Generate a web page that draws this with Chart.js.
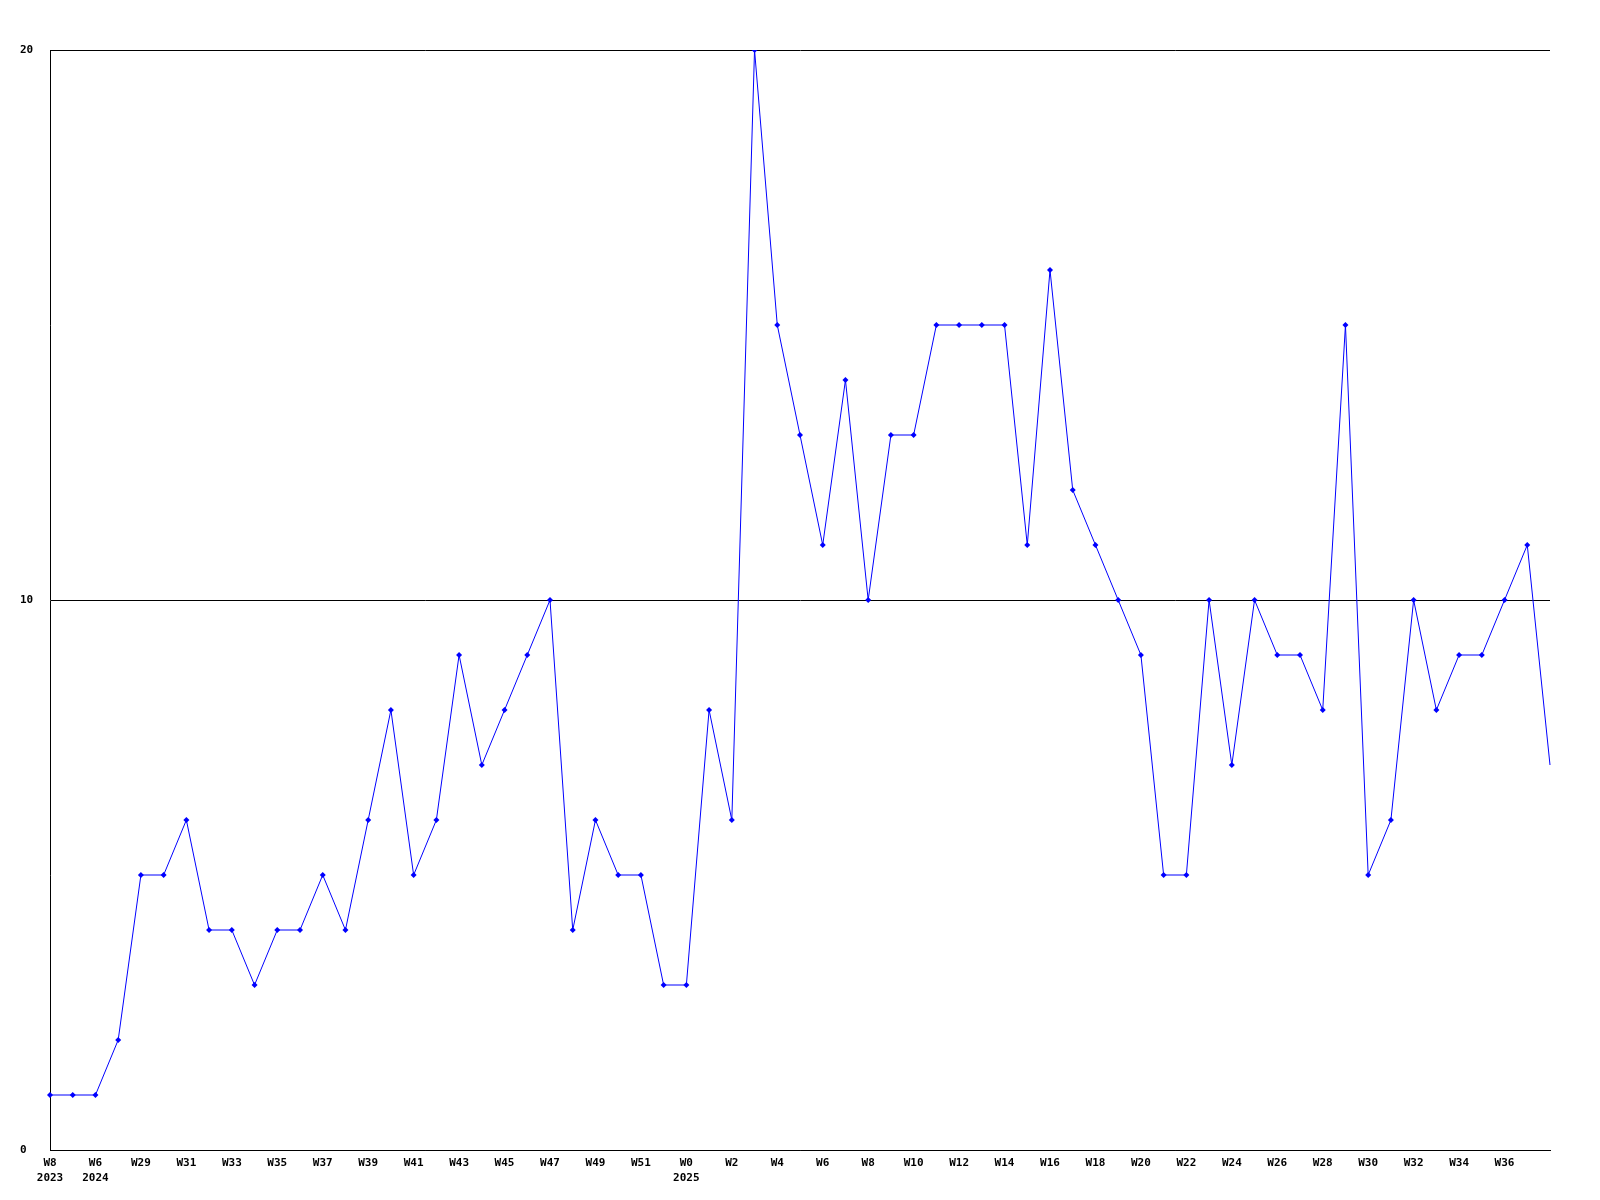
<!DOCTYPE html>
<html lang="en">
<head>
    <meta charset="UTF-8">
    <title>Weekly chart</title>
    <script src="https://cdn.jsdelivr.net/npm/chart.js"></script>
    <style>
        html, body { margin: 0; padding: 0; background: #fff; }
        #wrap { width: 1600px; height: 1200px; }
    </style>
</head>
<body>
    <div id="wrap"><canvas id="grafico"></canvas></div>
    <script>
        // one value per week
        const weekValues = [
            1, 1, 1, 2, 5, 5, 6, 4, 4, 3,
            4, 4, 5, 4, 6, 8, 5, 6, 9, 7,
            8, 9, 10, 4, 6, 5, 5, 3, 3, 8,
            6, 20, 15, 13, 11, 14, 10, 13, 13, 15,
            15, 15, 15, 11, 16, 12, 11, 10, 9, 5,
            5, 10, 7, 10, 9, 9, 8, 15, 5, 6,
            10, 8, 9, 9, 10, 11, 7
        ];
        // label shown on every second week
        const tickLabels = [
            ['W8', '2023'], ['W6', '2024'], 'W29', 'W31', 'W33', 'W35', 'W37', 'W39',
            'W41', 'W43', 'W45', 'W47', 'W49', 'W51', ['W0', '2025'], 'W2', 'W4',
            'W6', 'W8', 'W10', 'W12', 'W14', 'W16', 'W18', 'W20', 'W22', 'W24',
            'W26', 'W28', 'W30', 'W32', 'W34', 'W36'
        ];
        const yTicks = [0, 10, 20];

        const categories = weekValues.map((v, i) => (i % 2 === 0 && tickLabels[i / 2]) ? tickLabels[i / 2] : '');
        const pointSizes = weekValues.map((v, i) => i === weekValues.length - 1 ? 0 : 3);

        const monoFont = { family: '"DejaVu Sans Mono", monospace', size: 11, weight: 'bold', lineHeight: '15px' };

        new Chart(document.getElementById('grafico').getContext('2d'), {
            type: 'line',
            data: {
                labels: categories,
                datasets: [{
                    data: weekValues,
                    borderColor: '#0000ff',
                    backgroundColor: '#0000ff',
                    borderWidth: 1,
                    pointStyle: 'rectRot',
                    pointRadius: pointSizes,
                    pointBorderWidth: 0,
                    tension: 0
                }]
            },
            options: {
                responsive: true,
                maintainAspectRatio: false,
                animation: false,
                layout: { padding: { top: 50, right: 50, left: 20, bottom: 0 } },
                plugins: { legend: { display: false }, tooltip: { enabled: false } },
                scales: {
                    x: {
                        offset: false,
                        grid: { display: false, drawTicks: false },
                        border: { color: '#000', width: 1 },
                        ticks: {
                            autoSkip: false,
                            maxRotation: 0,
                            padding: 6,
                            color: '#000',
                            font: monoFont
                        },
                        afterFit: s => { s.height = 50; }
                    },
                    y: {
                        min: 0,
                        max: 20,
                        afterBuildTicks: s => { s.ticks = yTicks.map(v => ({ value: v })); },
                        grid: { color: '#000', lineWidth: 1, drawTicks: false },
                        border: { color: '#000', width: 1 },
                        ticks: { padding: 16, crossAlign: 'far', color: '#000', font: monoFont },
                        afterFit: s => { s.width = 30; }
                    }
                }
            }
        });
    </script>
</body>
</html>
